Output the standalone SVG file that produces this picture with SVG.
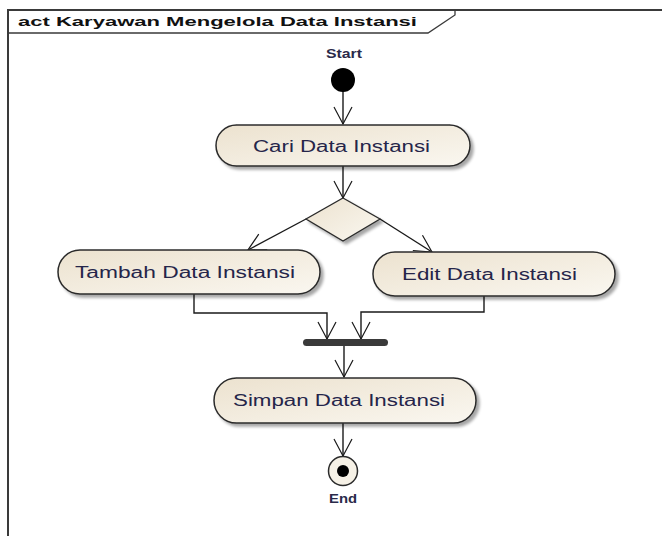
<svg xmlns="http://www.w3.org/2000/svg" width="662" height="538" viewBox="0 0 662 538">
  <defs>
    <linearGradient id="nodeFill" x1="0" y1="0" x2="1" y2="1">
      <stop offset="0" stop-color="#ece2cf"/>
      <stop offset="1" stop-color="#faf7f0"/>
    </linearGradient>
    <filter id="shadow" x="-10%" y="-20%" width="125%" height="160%">
      <feGaussianBlur in="SourceAlpha" stdDeviation="1.6"/>
      <feOffset dx="3" dy="3" result="blur"/>
      <feComponentTransfer><feFuncA type="linear" slope="0.35"/></feComponentTransfer>
      <feMerge><feMergeNode/><feMergeNode in="SourceGraphic"/></feMerge>
    </filter>
    <marker id="open" markerWidth="20" markerHeight="22" refX="0" refY="0" viewBox="-18 -11 20 22" orient="auto" markerUnits="userSpaceOnUse">
      <path d="M-17,-9 L0,0 L-17,9" fill="none" stroke="#1a1a1a" stroke-width="1.2"/>
    </marker>
  </defs>
  <style>
    .frame { fill: none; stroke: #3a3a3a; stroke-width: 2; }
    .action { fill: url(#nodeFill); stroke: #2b2b2b; stroke-width: 1.5; filter: url(#shadow); }
    .label { font-family: "Liberation Sans", Arial, sans-serif; font-size: 16px; fill: #25254a; }
    .small { font-family: "Liberation Sans", Arial, sans-serif; font-size: 12px; font-weight: bold; fill: #2a2a4a; }
    .title { font-family: "Liberation Sans", Arial, sans-serif; font-size: 13px; font-weight: bold; fill: #111; }
    .edge { fill: none; stroke: #1a1a1a; stroke-width: 1.4; marker-end: url(#open); }
  </style>
  <rect width="662" height="538" fill="#ffffff"/>

  <!-- diagram frame with name tab -->
  <g id="frame">
    <path class="frame" d="M8,536 L8,10 L662,10"/>
    <path d="M8,33 L428,33 L455,15 L455,10" fill="none" stroke="#3a3a3a" stroke-width="1.3"/>
    <text class="title" x="18" y="26" textLength="399" lengthAdjust="spacingAndGlyphs">act Karyawan Mengelola Data Instansi</text>
  </g>

  <!-- connectors -->
  <g id="connectors">
    <line class="edge" x1="343" y1="91" x2="343" y2="124"/>
    <line class="edge" x1="343" y1="166" x2="343" y2="198"/>
    <line class="edge" x1="306" y1="219" x2="248" y2="250"/>
    <line class="edge" x1="380" y1="219" x2="432" y2="252"/>
    <polyline class="edge" points="194,294 194,313 327,313 327,339"/>
    <polyline class="edge" points="484,296 484,312 361,312 361,339"/>
    <line class="edge" x1="344" y1="346" x2="344" y2="377"/>
    <line class="edge" x1="343" y1="423" x2="343" y2="456"/>
  </g>

  <g id="start">
    <text class="small" x="344" y="58" text-anchor="middle" textLength="36" lengthAdjust="spacingAndGlyphs">Start</text>
    <circle cx="343" cy="80" r="12" fill="#000"/>
  </g>

  <g id="cari">
    <rect class="action" x="216" y="125" width="254" height="41" rx="20.5"/>
    <text class="label" x="253" y="152" textLength="177" lengthAdjust="spacingAndGlyphs">Cari Data Instansi</text>
  </g>

  <g id="decision">
    <polygon points="343,198 380,219 343,241 306,219" fill="url(#nodeFill)" stroke="#2b2b2b" stroke-width="1.3" filter="url(#shadow)"/>
  </g>

  <g id="tambah">
    <rect class="action" x="58" y="250" width="262" height="44" rx="22"/>
    <text class="label" x="75" y="278" textLength="220" lengthAdjust="spacingAndGlyphs">Tambah Data Instansi</text>
  </g>

  <g id="edit">
    <rect class="action" x="373" y="252" width="242" height="44" rx="22"/>
    <text class="label" x="402" y="280" textLength="175" lengthAdjust="spacingAndGlyphs">Edit Data Instansi</text>
  </g>

  <g id="join">
    <rect x="303" y="339" width="85" height="7" rx="3.5" fill="#3a3a3a"/>
  </g>

  <g id="simpan">
    <rect class="action" x="214" y="378" width="262" height="45" rx="22.5"/>
    <text class="label" x="233" y="406" textLength="212" lengthAdjust="spacingAndGlyphs">Simpan Data Instansi</text>
  </g>

  <g id="end">
    <circle cx="343" cy="471" r="14.5" fill="#f6f1e6" stroke="#2b2b2b" stroke-width="1.5"/>
    <circle cx="343" cy="471" r="6" fill="#000"/>
    <text class="small" x="343" y="503" text-anchor="middle" textLength="28" lengthAdjust="spacingAndGlyphs">End</text>
  </g>
</svg>
